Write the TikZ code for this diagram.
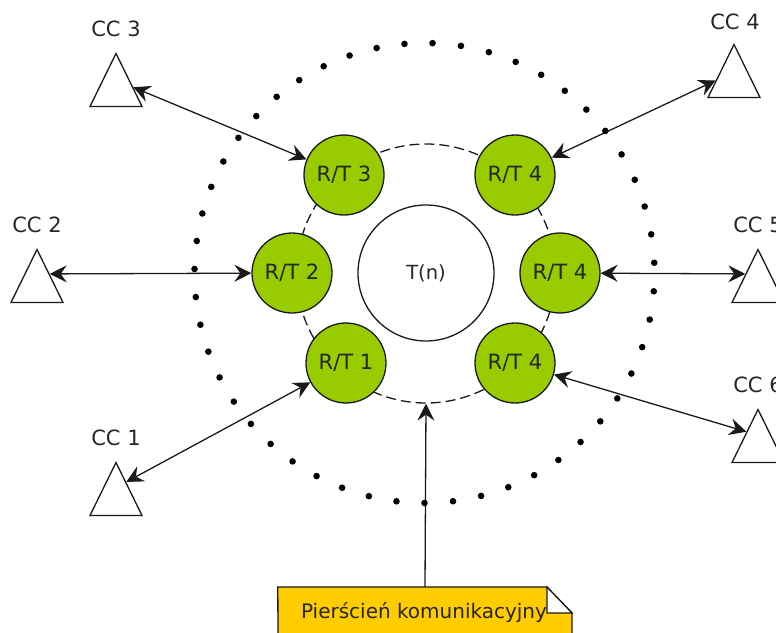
\documentclass[tikz,border=0pt]{standalone}
\usepackage{fontspec}
\setmainfont{DejaVu Sans}
\usetikzlibrary{arrows.meta,shapes.geometric,calc}
\definecolor{rtgreen}{HTML}{99CC00}
\definecolor{noteyellow}{HTML}{FFCC00}
\definecolor{inkc}{HTML}{1A1A1A}
\tikzset{
  rtnode/.style={circle,draw=inkc,line width=1.3pt,fill=rtgreen,minimum size=80pt,inner sep=0pt,font=\fontsize{21}{23}\selectfont,text=black!85},
  ccnode/.style={isosceles triangle,isosceles triangle apex angle=52,isosceles triangle stretches,shape border rotate=90,draw=inkc,line width=1.3pt,fill=white,minimum width=52pt,minimum height=53pt,inner sep=0pt,anchor=apex},
  cclabel/.style={font=\fontsize{21}{23}\selectfont,text=black!85,inner sep=0pt},
  link/.style={draw=inkc,line width=1.3pt,{Stealth[length=17pt,width=17pt,inset=6pt]}-{Stealth[length=17pt,width=17pt,inset=6pt]}},
  pointer/.style={draw=inkc,line width=1.3pt,-{Stealth[length=17pt,width=17pt,inset=6pt]}},
}
\begin{document}
\begin{tikzpicture}[x=1pt,y=-1pt]
\useasboundingbox (0,0) rectangle (776,632);
\clip (0,0) rectangle (776,632);
\node[circle,draw=inkc,line width=1.3pt,dash pattern=on 10pt off 5pt,minimum size=259pt,inner sep=0pt] (ring) at (426,273.5) {};
\node[circle,draw=inkc,line width=1.3pt,minimum size=136pt,inner sep=0pt,font=\fontsize{19.5}{21}\selectfont,text=black!85] (tn) at (426,273) {T(n)};
\node[rtnode] (rt3) at (344,175) {R/T 3};
\node[rtnode] (rt4a) at (515,175) {R/T 4};
\node[rtnode] (rt2) at (292,273) {R/T 2};
\node[rtnode] (rt4b) at (560,273) {R/T 4};
\node[rtnode] (rt1) at (346,363) {R/T 1};
\node[rtnode] (rt4c) at (515,363) {R/T 4};
\node[ccnode] (cc3) at (116,52) {};
\node[ccnode] (cc4) at (734,43) {};
\node[ccnode] (cc2) at (37,248) {};
\node[ccnode] (cc5) at (758,248) {};
\node[ccnode] (cc1) at (116,461) {};
\node[ccnode] (cc6) at (758,408) {};
\node[cclabel] (l3) at (116,29) {CC 3};
\node[cclabel] (l4) at (735,22) {CC 4};
\node[cclabel] (l2) at (37,225) {CC 2};
\node[cclabel] (l5) at (758,225) {CC 5};
\node[cclabel] (l1) at (116,438) {CC 1};
\node[cclabel] (l6) at (758,385) {CC 6};
\coordinate (e3) at ($(cc3.apex)!.64!(cc3.right corner)$);
\coordinate (e4) at ($(cc4.apex)!.68!(cc4.left corner)$);
\coordinate (e2) at ($(cc2.apex)!.47!(cc2.right corner)$);
\coordinate (e5) at ($(cc5.apex)!.47!(cc5.left corner)$);
\coordinate (e1) at ($(cc1.apex)!.38!(cc1.right corner)$);
\coordinate (e6) at ($(cc6.apex)!.43!(cc6.left corner)$);
\draw[link] (e3) -- (rt3);
\draw[link] (e4) -- (rt4a);
\draw[link] (e2) -- (rt2);
\draw[link] (e5) -- (rt4b);
\draw[link] (e1) -- (rt1);
\draw[link] (e6) -- (rt4c);
\node[inner sep=0pt,minimum width=294pt,minimum height=52pt,anchor=north] (note) at (425,587) {};
\draw[draw=inkc,line width=1.3pt,fill=noteyellow] (note.north west) -- (547,587) -- (572,613) -- (572,640) -- (278,640) -- cycle;
\draw[draw=inkc,line width=1.3pt,fill=white] (547,587) -- (572,613) -- (547,613) -- cycle;
\node[font=\fontsize{20}{22}\selectfont,text=black!85,inner sep=0pt] (notetext) at (424,613) {Pierścień komunikacyjny};
\draw[pointer] (note.north) -- (ring.south);
\foreach \i in {0,...,25}
  \fill[black] ({424.5-230*sin(\i*7)},{273+230*cos(\i*7)}) circle (3.3pt);
\foreach \i in {1,...,25}
  \fill[black] ({424.5+230*sin(\i*7.12)},{273+230*cos(\i*7.12)}) circle (3.3pt);
\end{tikzpicture}
\end{document}
